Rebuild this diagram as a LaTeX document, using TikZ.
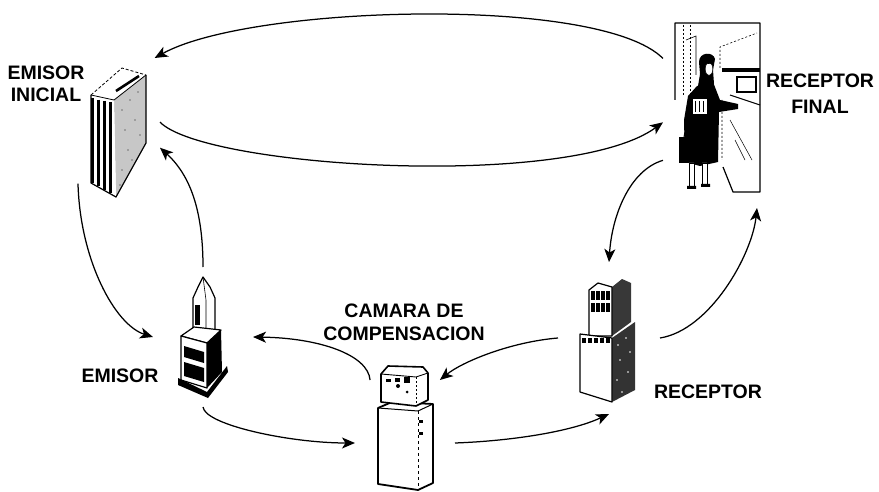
\documentclass[tikz,border=0pt]{standalone}
\usepackage{fontspec}
\setmainfont{Liberation Sans}
\usetikzlibrary{arrows.meta}
\begin{document}
\begin{tikzpicture}[x=1pt,y=-1pt,
  port/.style={inner sep=0pt,outer sep=0pt,minimum width=#1},
  lbl/.style={font=\bfseries\fontsize{19.5}{22}\selectfont,align=center,inner sep=0pt},
  conn/.style={line width=1.25pt,-{Stealth[length=13pt,width=11pt,inset=3.5pt]}},
  ink/.style={line width=1.2pt,line join=round},
]
\useasboundingbox (0,0) rectangle (879,492);
\fill[white] (0,0) rectangle (879,492);

% ---------- invisible frames of the five parties ----------
\node[port=82pt,minimum height=134pt] (ei) at (119,125) {};
\node[port=100pt,minimum height=140pt] (em) at (203,337) {};
\node[port=100pt,minimum height=126pt] (ca) at (405,443) {};
\node[port=102pt,minimum height=152pt] (rc) at (609,338) {};
\node[port=94pt,minimum height=183pt] (rf) at (710,116.5) {};

% ---------- emisor inicial: a filing block ----------
\fill[black!22] (114,100) -- (146,75) -- (146,143) -- (116,197) -- cycle;
\foreach \p in {(122,110),(130,100),(138,92),(125,130),(135,120),(128,150),(140,135),(122,170),(132,160),(120,185)}
  \fill[black!55] \p circle (0.9);
\fill[white] (91,95) -- (114,100) -- (116,197) -- (91,183) -- cycle;
\foreach \x in {92.5,98.5,104.5,110.5}
  \draw[line width=3pt] (\x,{95+(\x-91)*0.22+3}) -- (\x,{183+(\x-91)*0.56-1});
\draw[ink] (91,95) -- (91,183) -- (116,197) -- (146,143) -- (146,75);
\draw[line width=0.8pt,dash pattern=on 3pt off 2pt] (91,95) -- (122,68) -- (146,75);
\draw[line width=0.8pt] (91,95) -- (114,100) -- (146,75);
\draw[line width=2.6pt] (116,91) -- (139,76);

% ---------- emisor: a tower ----------
\filldraw[ink,fill=white] (193,332) -- (193,298) -- (198,287) -- (203,277) -- (210,287) -- (215,298) -- (215,332);
\fill (195,305) rectangle (200,325);
\draw[line width=0.6pt] (203,277) -- (206,300) -- (206,330);
\filldraw[ink,fill=white] (181,336) -- (194,327) -- (221,330) -- (207,343) -- cycle;
\filldraw[ink,fill=white] (181,336) -- (207,343) -- (207,388) -- (181,380) -- cycle;
\fill (184,346) -- (204,352) -- (204,363) -- (184,357) -- cycle;
\fill (184,362) -- (204,368) -- (204,382) -- (184,376) -- cycle;
\fill (207,343) -- (221,330) -- (222,372) -- (207,388) -- cycle;
\fill (178,378) -- (207,392) -- (227,366) -- (228,372) -- (208,398) -- (178,385) -- cycle;

% ---------- camara de compensacion: a clearing-house block ----------
\filldraw[line width=1.8pt,line join=round,fill=white]
  (378,408) -- (392,402) -- (433,404) -- (433,483) -- (418,490) -- (378,484) -- cycle;
\draw[line width=1pt] (378,408) -- (418,411) -- (433,404);
\draw[line width=0.8pt,dash pattern=on 3pt off 3pt] (418,411) -- (418,490);
\fill (419,420) rectangle (423,423);
\fill (419,432) rectangle (423,435);
\filldraw[line width=1.6pt,line join=round,fill=white]
  (381,374) -- (388,366) -- (423,367) -- (428,373) -- (428,400) -- (416,406) -- (381,402) -- cycle;
\draw[line width=0.9pt] (381,374) -- (416,377) -- (428,373);
\draw[line width=0.7pt,dash pattern=on 2pt off 2pt] (416,377) -- (416,406);
\fill (386,379) rectangle (391,382);
\fill (395,378) rectangle (400,382);
\fill (404,377) rectangle (410,383);
\fill (398,386) circle (2);
\fill (407,392) circle (1.5);

% ---------- receptor: an office tower ----------
\fill[black!78] (612,287) -- (622,279) -- (631,283) -- (631,322) -- (612,336) -- cycle;
\filldraw[ink,fill=white] (589,290) -- (598,283) -- (612,287) -- (612,336) -- (589,336) -- cycle;
\foreach \x in {591,596,601,606}{
  \fill (\x,291) rectangle (\x+3.5,300);
  \fill (\x,303) rectangle (\x+3.5,312);}
\fill[black!80] (612,338) -- (635,322) -- (635,390) -- (612,402) -- cycle;
\foreach \p in {(618,345),(626,338),(620,360),(630,352),(617,380),(628,372),(622,392)}
  \fill[white] \p circle (0.9);
\filldraw[ink,fill=white] (580,334) -- (612,338) -- (612,402) -- (580,392) -- cycle;
\foreach \x in {582,588,594,600,606}
  \fill (\x,338) rectangle (\x+4,343);

% ---------- receptor final: a customer at a bank counter ----------
\draw[ink] (675,100) -- (675,23) -- (760,23) -- (760,192) -- (733,192) -- (723,167);
\draw[line width=0.5pt,dash pattern=on 2pt off 2pt] (683,25) -- (683,95) (690,25) -- (690,95);
\draw[line width=0.6pt] (686,40) -- (696,36) -- (696,75);
\draw[line width=0.6pt,dash pattern=on 2pt off 2pt] (720,68) -- (720,47) -- (757,33) (722,100) -- (722,160);
\draw[line width=0.5pt] (730,120) -- (752,160) (735,140) -- (745,160);
\fill (722,68) rectangle (760,72);
\filldraw[line width=1.4pt,fill=white] (737,77) rectangle (756,92);
\draw[line width=1pt] (730,95) -- (760,105);
% customer
\fill (699,62) .. controls (699,52) and (713,51) .. (715,59) -- (713,70) -- (714,84)
  -- (704,90) -- (698,86) -- (700,74) -- cycle;
\filldraw[white,draw=black,line width=0.5pt] (709,69) ellipse (3.8 and 6.5);
\fill (706,62) .. controls (709,58) and (713,59) .. (714,63) -- (708,64) -- cycle;
\fill (697,86) -- (713,82) -- (720,100) -- (738,104) -- (738,109) -- (719,112)
  -- (718,162) -- (700,166) -- (685,162) -- (684,120) -- (688,96) -- cycle;
\filldraw[white,draw=black,line width=0.6pt] (692,98) rectangle (707,114);
\draw[line width=0.5pt] (695,101) -- (695,112) (699,101) -- (699,112) (703,101) -- (703,112);
\fill (679,137) rectangle (696,163);
\draw[line width=1pt] (684,137) -- (685,132) -- (691,132) -- (692,137);
\filldraw[white,draw=black,line width=0.8pt] (689,163) rectangle (694,186) (702,163) rectangle (707,184);
\fill (687,186) rectangle (696,189) (701,184) rectangle (710,187);

% ---------- labels ----------
\node[lbl] (ei-l) at (46,84) {EMISOR\\INICIAL};
\node[lbl,font=\bfseries\fontsize{19.5}{26}\selectfont] (rf-l) at (820,93.5) {RECEPTOR\\FINAL};
\node[lbl,font=\bfseries\fontsize{19.5}{23}\selectfont] (ca-l) at (404,322.5) {CAMARA DE\\COMPENSACION};
\node[lbl] (em-l) at (120,376) {EMISOR};
\node[lbl] (rc-l) at (708,392) {RECEPTOR};

% ---------- flows between the parties ----------
\draw[conn] (rf.129) .. controls (600,-5) and (250,5) .. (ei.62);
\draw[conn] (ei.4) .. controls (205,168) and (570,190) .. (rf.187);
\draw[conn] (ei.235) .. controls (80,260) and (115,325) .. (em.west);
\draw[conn] (em.north) .. controls (203,210) and (190,175) .. (ei.-29);
\draw[conn] (em.south) .. controls (205,425) and (290,443) .. (ca.west);
\draw[conn] (ca.119) .. controls (368,355) and (320,338) .. (em.east);
\draw[conn] (ca.east) .. controls (510,441) and (570,432) .. (rc.south);
\draw[conn] (rc.west) .. controls (510,342) and (462,362) .. (ca.61);
\draw[conn] (rf.223) .. controls (630,170) and (612,215) .. (rc.north);
\draw[conn] (rc.east) .. controls (710,330) and (752,255) .. (rf.south east);
\end{tikzpicture}
\end{document}
